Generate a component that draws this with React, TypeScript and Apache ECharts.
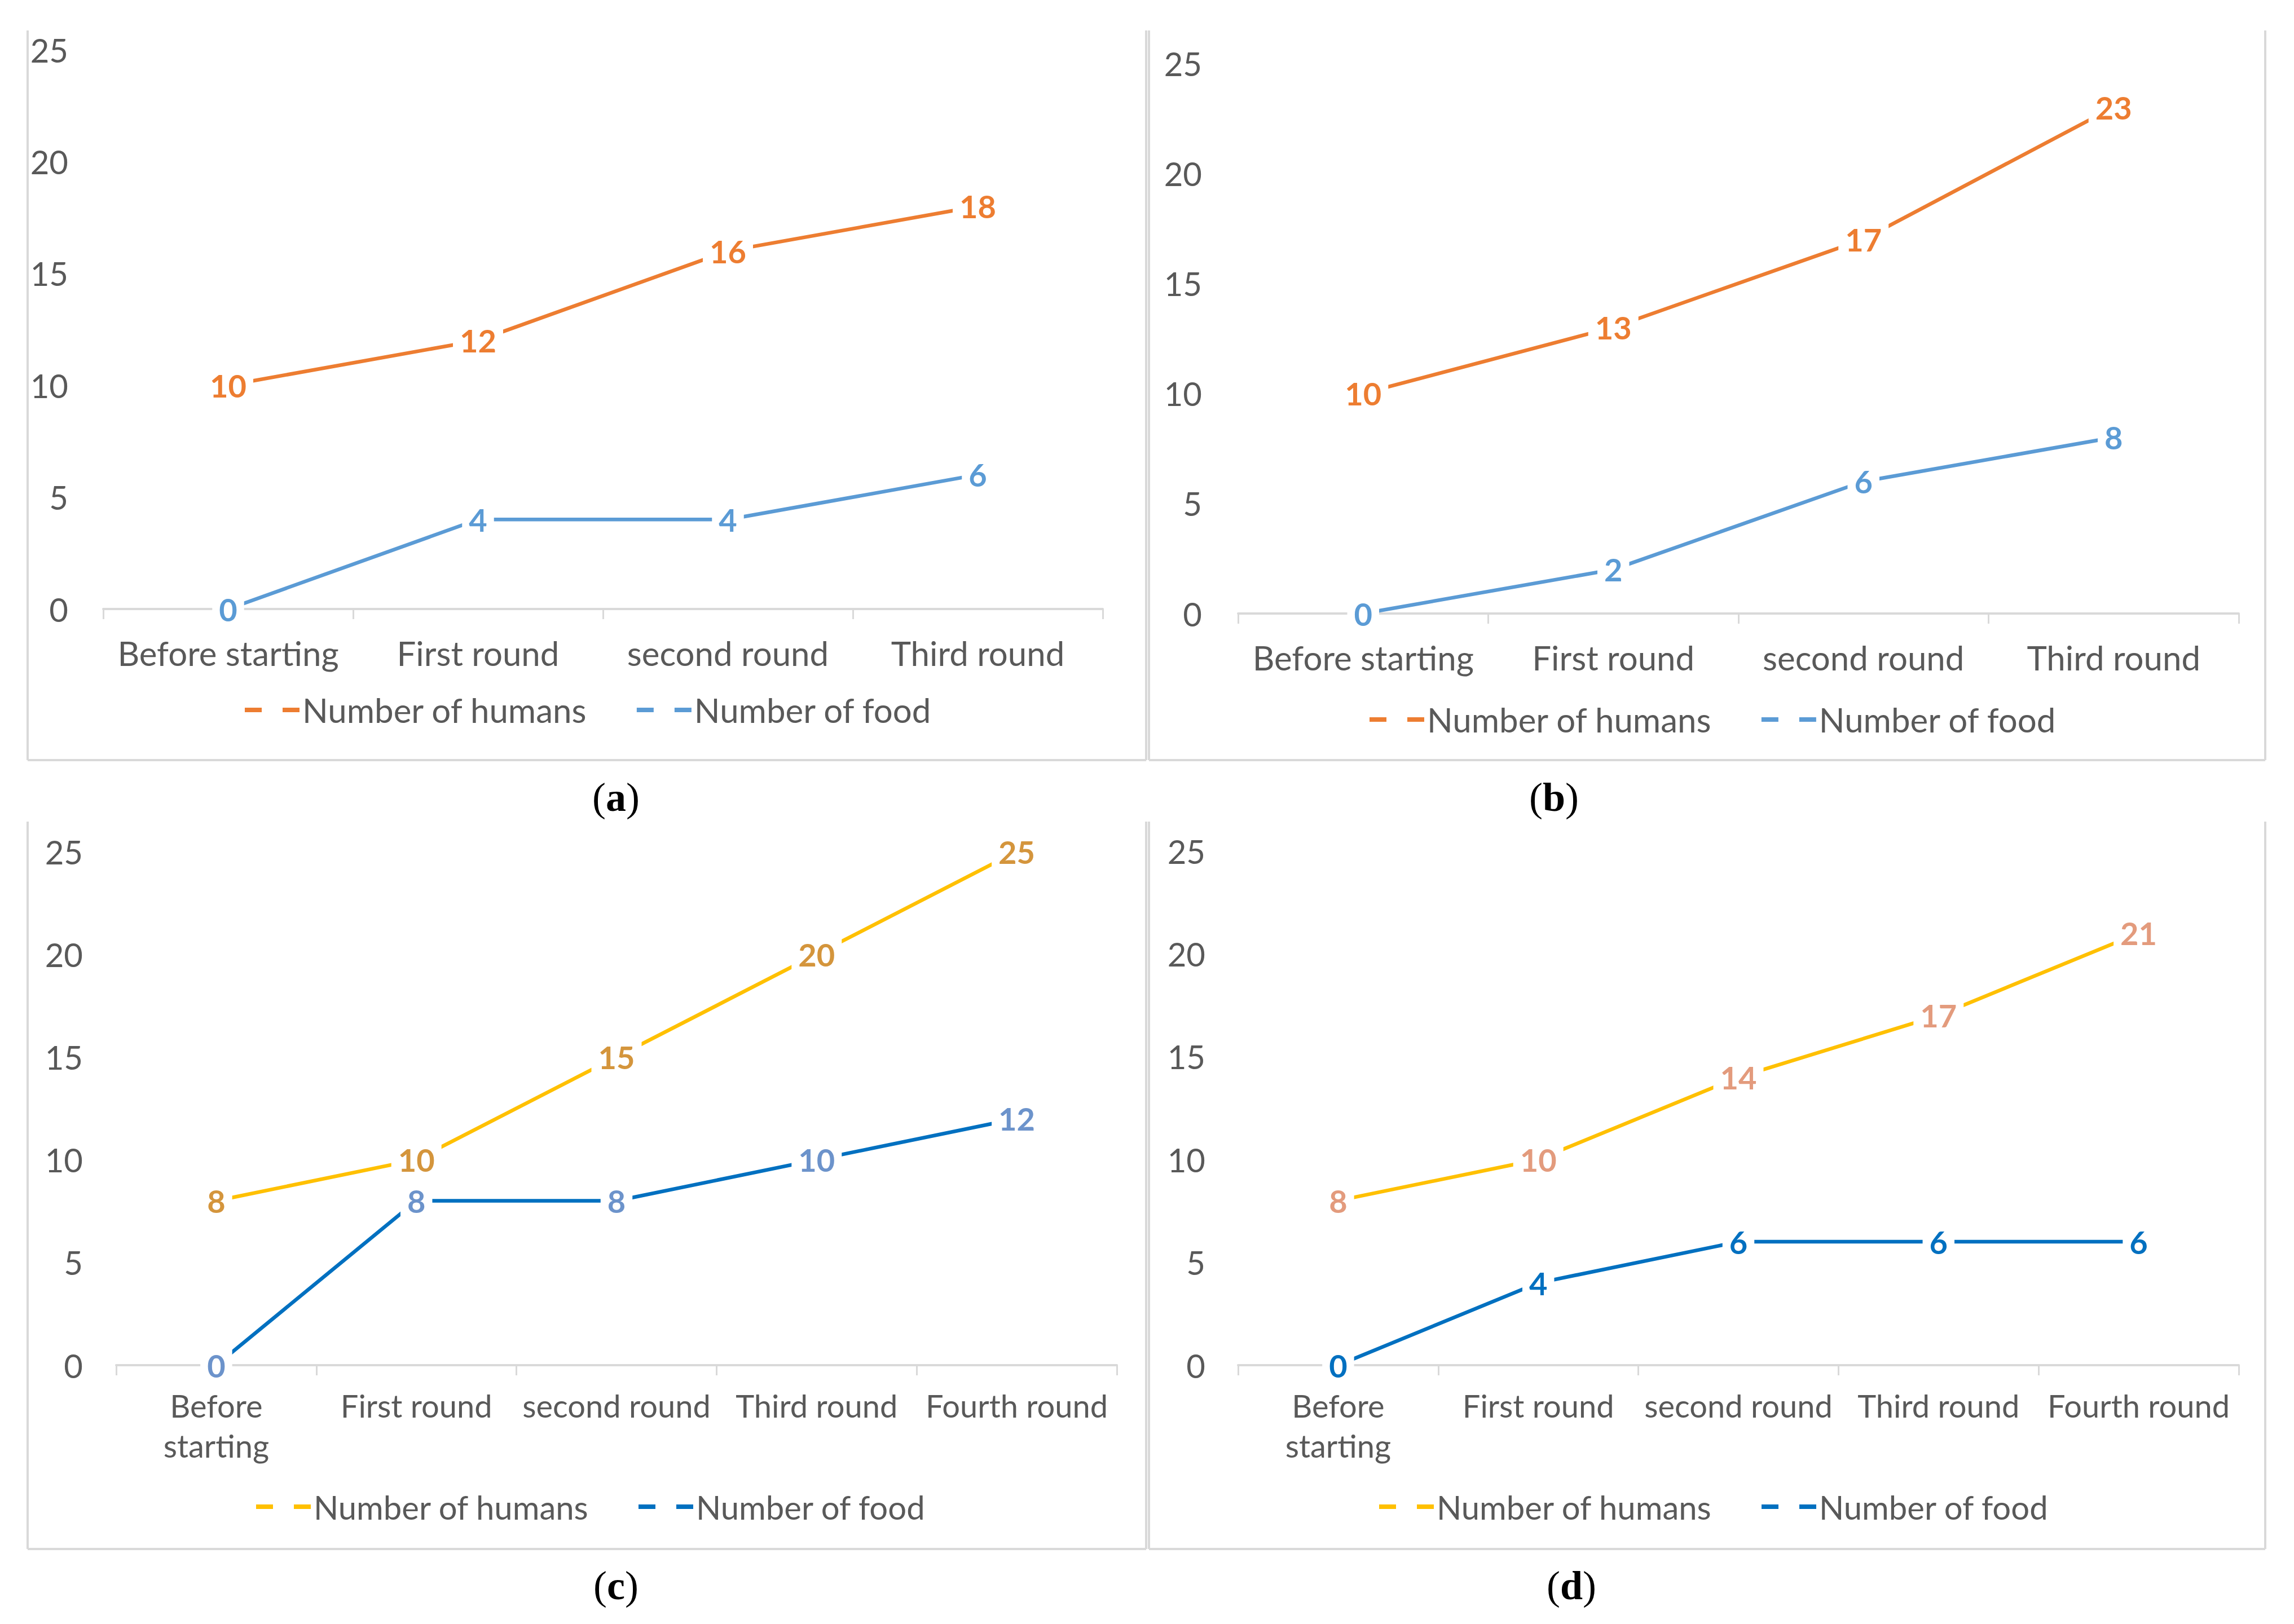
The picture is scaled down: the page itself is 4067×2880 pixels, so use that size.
import React, { useEffect, useRef } from "react";
import * as echarts from "echarts";

// ---------- data ----------
const categoriesFour = ["Before starting", "First round", "second round", "Third round"];
const categoriesFive = ["Before starting", "First round", "second round", "Third round", "Fourth round"];

const humansA = [10, 12, 16, 18];
const foodA = [0, 4, 4, 6];
const humansB = [10, 13, 17, 23];
const foodB = [0, 2, 6, 8];
const humansC = [8, 10, 15, 20, 25];
const foodC = [0, 8, 8, 10, 12];
const humansD = [8, 10, 14, 17, 21];
const foodD = [0, 4, 6, 6, 6];

const yMin = 0;
const yMax = 25;
const yInterval = 5;

const humansName = "Number of humans";
const foodName = "Number of food";
const captions = ["a", "b", "c", "d"];

// ---------- layout / styles ----------
const W = 4067;
const H = 2880;
const GRAY_TEXT = "#595959";
const BORDER = "#D9D9D9";

const panels = [
  {
    cats: categoriesFour, humans: humansA, food: foodA,
    grid: { left: 183, top: 88, width: 1772, height: 992 },
    yMargin: 62, xMargin: 42, wrap: false, font: "Lato", fs: 60, lfs: 60,
    humColor: "#ED7D31", humLabel: "#ED7D31", foodColor: "#5B9BD5", foodLabel: "#5B9BD5",
    legend: { left: 429, top: 1224 }, caption: { x: 1092, y: 1414 },
  },
  {
    cats: categoriesFour, humans: humansB, food: foodB,
    grid: { left: 2195, top: 112, width: 1774, height: 976 },
    yMargin: 64, xMargin: 42, wrap: false, font: "Lato", fs: 60, lfs: 60,
    humColor: "#ED7D31", humLabel: "#ED7D31", foodColor: "#5B9BD5", foodLabel: "#5B9BD5",
    legend: { left: 2423, top: 1241 }, caption: { x: 2755, y: 1414 },
  },
  {
    cats: categoriesFive, humans: humansC, food: foodC,
    grid: { left: 206, top: 1510, width: 1774, height: 911 },
    yMargin: 59, xMargin: 36, wrap: true, font: "Lato", fs: 56, lfs: 58,
    humColor: "#FFC000", humLabel: "#D4953C", foodColor: "#0070C0", foodLabel: "#6C93CB",
    legend: { left: 449, top: 2638 }, caption: { x: 1092, y: 2812 },
  },
  {
    cats: categoriesFive, humans: humansD, food: foodD,
    grid: { left: 2195, top: 1509, width: 1774, height: 912 },
    yMargin: 58, xMargin: 36, wrap: true, font: "Lato", fs: 56, lfs: 58,
    humColor: "#FFC000", humLabel: "#E39B7D", foodColor: "#0070C0", foodLabel: "#0070C0",
    legend: { left: 2440, top: 2638 }, caption: { x: 2786, y: 2812 },
  },
];

const borders = [
  { x1: 49, x2: 2032, y1: 54, y2: 1348 },
  { x1: 2037, x2: 4016, y1: 54, y2: 1348 },
  { x1: 49, x2: 2032, y1: 1457, y2: 2747 },
  { x1: 2037, x2: 4016, y1: 1457, y2: 2747 },
];

const LEGEND_ICON = "path://M0 0H30V8H0Z M67 0H97V8H67Z";

function buildOption() {
  const grid: any[] = [];
  const xAxis: any[] = [];
  const yAxis: any[] = [];
  const series: any[] = [];
  const legend: any[] = [];
  const graphic: any[] = [];

  panels.forEach((p, i) => {
    const tag = " (" + captions[i] + ")";
    grid.push({ ...p.grid, containLabel: false, outerBoundsMode: "none" });
    xAxis.push({
      type: "category",
      gridIndex: i,
      data: p.cats,
      boundaryGap: true,
      axisLine: { show: true, lineStyle: { color: BORDER, width: 4 } },
      axisTick: { show: true, length: 18, lineStyle: { color: BORDER, width: 3 } },
      splitLine: { show: false },
      axisLabel: {
        color: GRAY_TEXT,
        fontFamily: p.font,
        fontSize: p.fs,
        lineHeight: 71,
        margin: p.xMargin,
        interval: 0,
        formatter: (v: string) => (p.wrap ? v.replace("Before starting", "Before\nstarting") : v),
      },
    });
    yAxis.push({
      type: "value",
      gridIndex: i,
      min: yMin,
      max: yMax,
      interval: yInterval,
      axisLine: { show: false },
      axisTick: { show: false },
      splitLine: { show: false },
      axisLabel: { color: GRAY_TEXT, fontFamily: p.font, fontSize: 58, margin: p.yMargin },
    });
    const mk = (name: string, data: number[], color: string, labelColor: string) => ({
      type: "line",
      name: name + tag,
      xAxisIndex: i,
      yAxisIndex: i,
      data,
      color,
      symbol: "circle",
      symbolSize: 1,
      showSymbol: true,
      lineStyle: { color, width: 6.5 },
      itemStyle: { color },
      label: {
        show: true,
        position: "inside",
        color: labelColor,
        fontFamily: "Lato",
        fontWeight: "bold",
        fontSize: 56,
        backgroundColor: "#ffffff",
        padding: [4, 12],
      },
      emphasis: { disabled: true },
      z: 2,
    });
    series.push(mk(humansName, p.humans, p.humColor, p.humLabel));
    series.push(mk(foodName, p.food, p.foodColor, p.foodLabel));
    legend.push({
      left: p.legend.left,
      top: p.legend.top,
      orient: "horizontal",
      data: [humansName + tag, foodName + tag],
      icon: LEGEND_ICON,
      itemWidth: 97,
      itemHeight: 8,
      itemGap: 87,
      selectedMode: false,
      formatter: (n: string) => n.replace(/ \([a-d]\)$/, ""),
      textStyle: { color: GRAY_TEXT, fontFamily: p.font, fontSize: p.lfs },
    });
    graphic.push({
      type: "text",
      x: p.caption.x,
      y: p.caption.y,
      style: {
        text: "{p|(}{b|" + captions[i] + "}{p|)}",
        align: "center",
        verticalAlign: "middle",
        rich: {
          p: { fontFamily: "Liberation Serif", fontSize: 72, fill: "#000", color: "#000" },
          b: { fontFamily: "Liberation Serif", fontSize: 72, fontWeight: "bold", fill: "#000", color: "#000" },
        },
      },
    });
  });

  borders.forEach((b) => {
    const st = { stroke: BORDER, lineWidth: 4 };
    graphic.push({ type: "line", shape: { x1: b.x1, y1: b.y1, x2: b.x1, y2: b.y2 }, style: st });
    graphic.push({ type: "line", shape: { x1: b.x2, y1: b.y1, x2: b.x2, y2: b.y2 }, style: st });
    graphic.push({ type: "line", shape: { x1: b.x1, y1: b.y2, x2: b.x2, y2: b.y2 }, style: st });
  });

  return {
    animation: false,
    backgroundColor: "#ffffff",
    grid,
    xAxis,
    yAxis,
    series,
    legend,
    graphic,
  };
}

export default function App() {
  const ref = useRef<HTMLDivElement>(null);
  useEffect(() => {
    if (!ref.current) return;
    const chart = echarts.init(ref.current, undefined, { renderer: "svg", width: W, height: H });
    chart.setOption(buildOption() as any);
    return () => chart.dispose();
  }, []);
  return (
    <div
      ref={ref}
      style={{ position: "fixed", left: 0, top: 0, width: W, height: H, background: "#fff" }}
    />
  );
}
